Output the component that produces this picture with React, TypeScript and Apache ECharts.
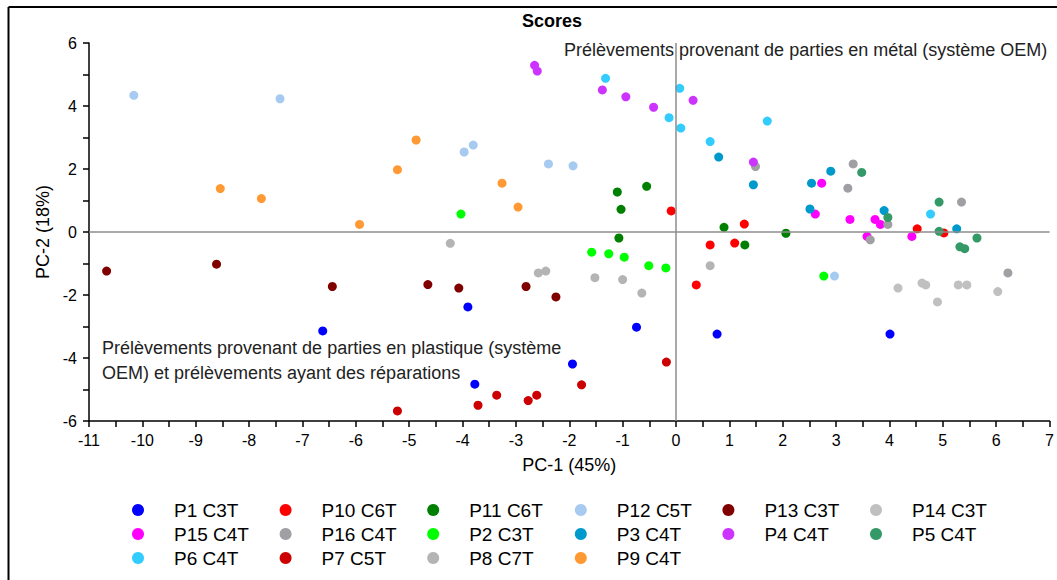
import React, { useEffect, useRef } from "react";
import * as echarts from "echarts";

const FONT = "'Liberation Sans', Arial, sans-serif";

const seriesNames = [
  "P1 C3T", "P10 C6T", "P11 C6T", "P12 C5T", "P13 C3T", "P14 C3T",
  "P15 C4T", "P16 C4T", "P2 C3T", "P3 C4T", "P4 C4T", "P5 C4T",
  "P6 C4T", "P7 C5T", "P8 C7T", "P9 C4T",
];

const seriesColors = [
  "#0000FF", "#FF0000", "#008000", "#A6CAF0", "#800000", "#C0C0C0",
  "#FF00FF", "#A0A0A4", "#00FF00", "#0099CC", "#CC33FF", "#339966",
  "#33CCFF", "#CC0000", "#B4B4B4", "#FF9933",
];

const p1 = [[-3.90, -2.38], [-6.62, -3.14], [-0.74, -3.02], [-1.94, -4.19], [-3.77, -4.83], [0.77, -3.24], [4.01, -3.24]];
const p10 = [[-0.09, 0.67], [0.64, -0.41], [1.10, -0.35], [1.28, 0.25], [0.38, -1.68], [4.52, 0.10], [5.02, -0.03]];
const p11 = [[-1.10, 1.27], [-0.55, 1.45], [-1.03, 0.72], [-1.07, -0.19], [0.90, 0.15], [1.29, -0.41], [2.06, -0.04]];
const p12 = [[-10.16, 4.34], [-7.42, 4.23], [-3.97, 2.54], [-3.80, 2.76], [-2.39, 2.16], [-1.93, 2.10], [2.97, -1.40]];
const p13 = [[-10.67, -1.24], [-8.61, -1.02], [-6.44, -1.73], [-4.65, -1.67], [-4.07, -1.78], [-2.81, -1.73], [-2.25, -2.06]];
const p14 = [[4.16, -1.78], [4.61, -1.62], [4.68, -1.68], [4.90, -2.22], [5.29, -1.68], [5.45, -1.68], [6.03, -1.89]];
const p15 = [[2.73, 1.55], [2.61, 0.57], [3.26, 0.40], [3.73, 0.40], [3.83, 0.24], [3.58, -0.14], [4.42, -0.14]];
const p16 = [[1.49, 2.08], [3.32, 2.16], [3.22, 1.39], [5.35, 0.95], [3.97, 0.24], [3.64, -0.25], [6.22, -1.30]];
const p2 = [[-4.03, 0.57], [-1.58, -0.64], [-1.26, -0.69], [-0.97, -0.80], [-0.51, -1.07], [-0.19, -1.14], [2.77, -1.40]];
const p3 = [[0.80, 2.38], [1.45, 1.50], [2.54, 1.55], [2.90, 1.93], [2.51, 0.73], [3.90, 0.68], [5.26, 0.10]];
const p4 = [[-2.65, 5.29], [-2.60, 5.11], [-1.38, 4.51], [-0.94, 4.29], [-0.42, 3.96], [0.32, 4.18], [1.45, 2.22]];
const p5 = [[3.48, 1.89], [4.93, 0.95], [3.97, 0.46], [4.93, 0.02], [5.32, -0.47], [5.41, -0.53], [5.64, -0.19]];
const p6 = [[-1.32, 4.88], [-0.13, 3.63], [0.07, 4.56], [0.09, 3.30], [0.64, 2.87], [1.71, 3.52], [4.77, 0.57]];
const p7 = [[-5.22, -5.68], [-3.71, -5.50], [-3.36, -5.18], [-2.77, -5.35], [-2.61, -5.18], [-1.77, -4.85], [-0.18, -4.13]];
const p8 = [[-4.23, -0.36], [-2.58, -1.30], [-2.44, -1.24], [-1.52, -1.45], [-1.00, -1.51], [-0.64, -1.94], [0.64, -1.07]];
const p9 = [[-8.54, 1.38], [-7.77, 1.06], [-5.93, 0.24], [-4.87, 2.92], [-5.22, 1.98], [-3.26, 1.55], [-2.96, 0.79]];

const seriesData = [p1, p10, p11, p12, p13, p14, p15, p16, p2, p3, p4, p5, p6, p7, p8, p9];

// separating dashed line endpoints (data coords)
const dividerStart = [-3.72, 6.1];
const dividerEnd = [6.25, -4.1];

const xTicks = { min: -11, max: 7, interval: 1 };
const yTicks = { min: -6, max: 6, interval: 2 };

const titleText = "Scores";
const xName = "PC-1 (45%)";
const yName = "PC-2 (18%)";
const noteMetal = "Prélèvements provenant de parties en métal (système OEM)";
const notePlastic = "Prélèvements provenant de parties en plastique (système\nOEM) et prélèvements ayant des réparations";

export default function App() {
  const ref = useRef<HTMLDivElement>(null);
  useEffect(() => {
    document.body.style.margin = "0";
    const chart = echarts.init(ref.current!, null, { renderer: "svg" });

    const legendCols = 6;
    const legends: any[] = [];
    for (let c = 0; c < legendCols; c++) {
      const names: string[] = [];
      for (let i = c; i < seriesNames.length; i += legendCols) names.push(seriesNames[i]);
      legends.push({
        orient: "vertical",
        left: 132 + c * 147.6,
        top: 499,
        padding: 0,
        itemGap: 2,
        itemWidth: 12,
        itemHeight: 12,
        icon: "circle",
        data: names,
        textStyle: { fontFamily: FONT, fontSize: 19, color: "#000", padding: [0, 0, 0, 25], lineHeight: 22 },
        selectedMode: false,
      });
    }

    const scatter = seriesNames.map((name, i) => ({
      name,
      type: "scatter",
      data: seriesData[i],
      symbol: "circle",
      symbolSize: 9,
      itemStyle: { color: seriesColors[i], opacity: 1 },
      z: 3,
    }));

    const option: any = {
      animation: false,
      backgroundColor: "#fff",
      textStyle: { fontFamily: FONT },
      title: {
        text: titleText,
        left: 547,
        top: 7,
        textAlign: "center",
        textStyle: { fontFamily: FONT, fontSize: 18, fontWeight: "bold", color: "#000" },
      },
      grid: { left: 89, right: 6, top: 43, bottom: 159, containLabel: false },
      xAxis: {
        type: "value",
        min: xTicks.min,
        max: xTicks.max,
        interval: xTicks.interval,
        axisLine: { onZero: false, lineStyle: { color: "#000", width: 1.5 } },
        axisTick: { show: true, inside: false, length: 6, lineStyle: { color: "#000", width: 1.5 } },
        minorTick: { show: true, splitNumber: 2, length: 6, lineStyle: { color: "#000", width: 1.5 } },
        splitLine: { show: false },
        axisLabel: { color: "#000", fontSize: 16, fontFamily: FONT, margin: 11 },
        name: xName,
        nameLocation: "middle",
        nameGap: 35,
        nameTextStyle: { color: "#000", fontSize: 18, fontFamily: FONT },
      },
      yAxis: {
        type: "value",
        min: yTicks.min,
        max: yTicks.max,
        interval: yTicks.interval,
        axisLine: { onZero: false, lineStyle: { color: "#000", width: 1.5 } },
        axisTick: { show: true, inside: false, length: 6, lineStyle: { color: "#000", width: 1.5 } },
        minorTick: { show: true, splitNumber: 2, length: 6, lineStyle: { color: "#000", width: 1.5 } },
        splitLine: { show: false },
        axisLabel: { color: "#000", fontSize: 16, fontFamily: FONT, margin: 12 },
        name: yName,
        nameLocation: "middle",
        nameGap: 25,
        nameTextStyle: { color: "#000", fontSize: 18, fontFamily: FONT },
      },
      legend: legends,
      graphic: [
        { type: "line", shape: { x1: 8.5, y1: 7, x2: 1057, y2: 7 }, style: { stroke: "#000", lineWidth: 2 }, z: 10 },
        { type: "line", shape: { x1: 8.5, y1: 7, x2: 8.5, y2: 580 }, style: { stroke: "#000", lineWidth: 2 }, z: 10 },
        {
          type: "text", left: 564, top: 41, z: 5,
          style: { text: noteMetal, fontFamily: FONT, fontSize: 18, fill: "#222" },
        },
        {
          type: "text", left: 102, top: 335, z: 5,
          style: { text: notePlastic, fontFamily: FONT, fontSize: 18, fill: "#222", lineHeight: 25 },
        },
      ],
      series: [
        {
          name: "_lines",
          type: "scatter",
          data: [],
          z: 1,
          silent: true,
          markLine: {
            silent: true,
            symbol: ["none", "none"],
            label: { show: false },
            animation: false,
            data: [
              { yAxis: 0, lineStyle: { color: "#8c8c8c", width: 1.5, type: "solid" } },
              { xAxis: 0, lineStyle: { color: "#8c8c8c", width: 1.5, type: "solid" } },
              [
                { coord: dividerStart, lineStyle: { color: "#000", width: 2.5, type: [9, 6] } },
                { coord: dividerEnd },
              ],
            ],
          },
        },
        ...scatter,
      ],
    };
    chart.setOption(option);
    return () => chart.dispose();
  }, []);
  return <div ref={ref} style={{ width: 1057, height: 580 }} />;
}
